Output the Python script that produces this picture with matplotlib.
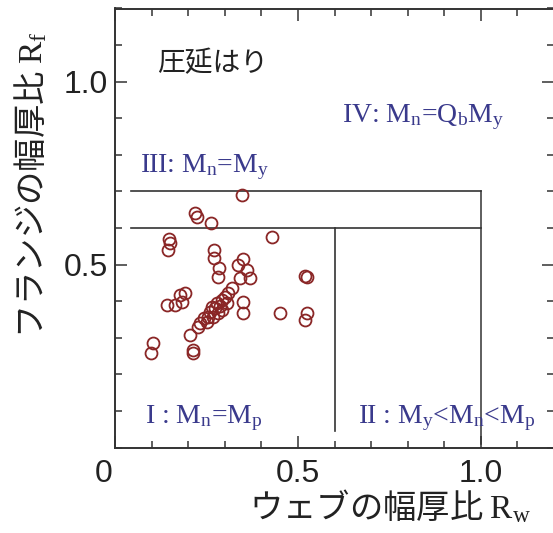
import matplotlib
matplotlib.use("Agg")
import matplotlib.pyplot as plt
import matplotlib.transforms as mtransforms
from matplotlib.ticker import MultipleLocator, FixedLocator

plt.rcParams['mathtext.fontset'] = 'custom'
plt.rcParams['mathtext.rm'] = 'Liberation Serif'
plt.rcParams['mathtext.it'] = 'Liberation Serif:italic'
plt.rcParams['mathtext.bf'] = 'Liberation Serif:bold'

# ---- data (web ratio Rw, flange ratio Rf) ----
rw = [0.346, 0.219, 0.223, 0.262, 0.428, 0.148, 0.150, 0.146, 0.271, 0.271,
      0.285, 0.282, 0.351, 0.337, 0.360, 0.369, 0.342, 0.524, 0.519, 0.319,
      0.178, 0.191, 0.182, 0.141, 0.164, 0.351, 0.351, 0.451, 0.524, 0.519,
      0.205, 0.214, 0.214, 0.103, 0.098,
      0.232, 0.242, 0.255, 0.260, 0.273, 0.278, 0.292, 0.301, 0.305, 0.282,
      0.269, 0.292, 0.310, 0.251, 0.228, 0.265, 0.288]
rf = [0.690, 0.640, 0.629, 0.614, 0.576, 0.571, 0.560, 0.540, 0.541, 0.517,
      0.490, 0.465, 0.514, 0.499, 0.485, 0.462, 0.462, 0.467, 0.470, 0.435,
      0.417, 0.421, 0.398, 0.389, 0.389, 0.398, 0.367, 0.367, 0.367, 0.348,
      0.307, 0.266, 0.259, 0.285, 0.259,
      0.339, 0.353, 0.357, 0.371, 0.380, 0.394, 0.403, 0.412, 0.394, 0.367,
      0.357, 0.376, 0.421, 0.344, 0.330, 0.385, 0.388]

x_ticks = [0, 0.5, 1.0]
x_ticklabels = ['0', '0.5', '1.0']
y_ticks = [0.5, 1.0]
y_ticklabels = ['0.5', '1.0']

# region boundaries
rf_limit_low = 0.6
rf_limit_high = 0.7
rw_limit_low = 0.6
rw_limit_high = 1.0
line_start = 0.045

title_text = '圧延はり'
xlabel_text = 'ウェブの幅厚比 $\\mathrm{R_w}$'
ylabel_text = 'フランジの幅厚比 $\\mathrm{R_f}$'
region_labels = [
    ('I : M$_\\mathrm{n}$=M$_\\mathrm{p}$', 0.082, 0.067),
    ('II : M$_\\mathrm{y}$<M$_\\mathrm{n}$<M$_\\mathrm{p}$', 0.664, 0.067),
    ('III: M$_\\mathrm{n}$=M$_\\mathrm{y}$', 0.068, 0.753),
    ('IV: M$_\\mathrm{n}$=Q$_\\mathrm{b}$M$_\\mathrm{y}$', 0.62, 0.889),
]

W, H = 553, 533
fig = plt.figure(figsize=(W / 100, H / 100), dpi=100)
ax = fig.add_axes([115 / W, 85.5 / H, 439 / W, 439 / H])
ax.set_xlim(0, 1.2)
ax.set_ylim(0, 1.2)

spine_c = '#333333'
line_c = '#333333'
for s in ax.spines.values():
    s.set_color(spine_c)
    s.set_linewidth(1.4)

# boundary lines
ax.plot([line_start, rw_limit_high], [rf_limit_high, rf_limit_high], color=line_c, lw=1.2)
ax.plot([line_start, rw_limit_high], [rf_limit_low, rf_limit_low], color=line_c, lw=1.2)
ax.plot([rw_limit_high, rw_limit_high], [rf_limit_high, 0.01], color=line_c, lw=1.1)
ax.plot([rw_limit_low, rw_limit_low], [rf_limit_low, line_start], color=line_c, lw=1.2)

# data
ax.plot(rw, rf, ls='none', marker='o', ms=8.6, mfc='none', mec='#8a2626', mew=1.3)

# ticks
ax.xaxis.set_major_locator(FixedLocator(x_ticks))
ax.set_xticklabels(x_ticklabels)
ax.yaxis.set_major_locator(FixedLocator(y_ticks))
ax.set_yticklabels(y_ticklabels)
ax.xaxis.set_minor_locator(MultipleLocator(0.1))
ax.yaxis.set_minor_locator(MultipleLocator(0.1))
ax.tick_params(which='both', direction='in', top=True, right=True, color=spine_c, width=1.1)
ax.tick_params(which='major', length=8.5)
ax.tick_params(which='minor', length=5)
ax.tick_params(axis='x', which='major', pad=8)
ax.tick_params(axis='y', which='major', pad=5)
for lab in ax.get_xticklabels() + ax.get_yticklabels():
    lab.set_fontfamily('Liberation Sans')
    lab.set_fontsize(23)
    lab.set_color('#222222')
# the "0" label sits slightly left of the corner in the reference
zero_lab = ax.get_xticklabels()[0]
zero_lab.set_transform(zero_lab.get_transform() +
                       mtransforms.ScaledTranslation(-8 / 72, 0, fig.dpi_scale_trans))

# labels
ax.set_xlabel(xlabel_text, fontsize=24, family=['Noto Sans CJK JP', 'DejaVu Sans'],
              color='#222222', va='center', ha='center')
ax.xaxis.set_label_coords(0.626, -0.137)
ax.set_ylabel(ylabel_text, fontsize=24, family=['Noto Sans CJK JP', 'DejaVu Sans'],
              color='#222222', va='center', ha='center')
ax.yaxis.set_label_coords(-0.189, 0.599)

ax.text(0.115, 1.05, title_text, fontsize=20, family=['Noto Sans CJK JP', 'DejaVu Sans'],
        color='#222222', ha='left', va='center')

for txt, x, y in region_labels:
    ax.text(x, y, txt, fontsize=20, color='#3a3a8c', ha='left', va='baseline',
            family='Liberation Serif')

fig.savefig('out.png', dpi=100)
